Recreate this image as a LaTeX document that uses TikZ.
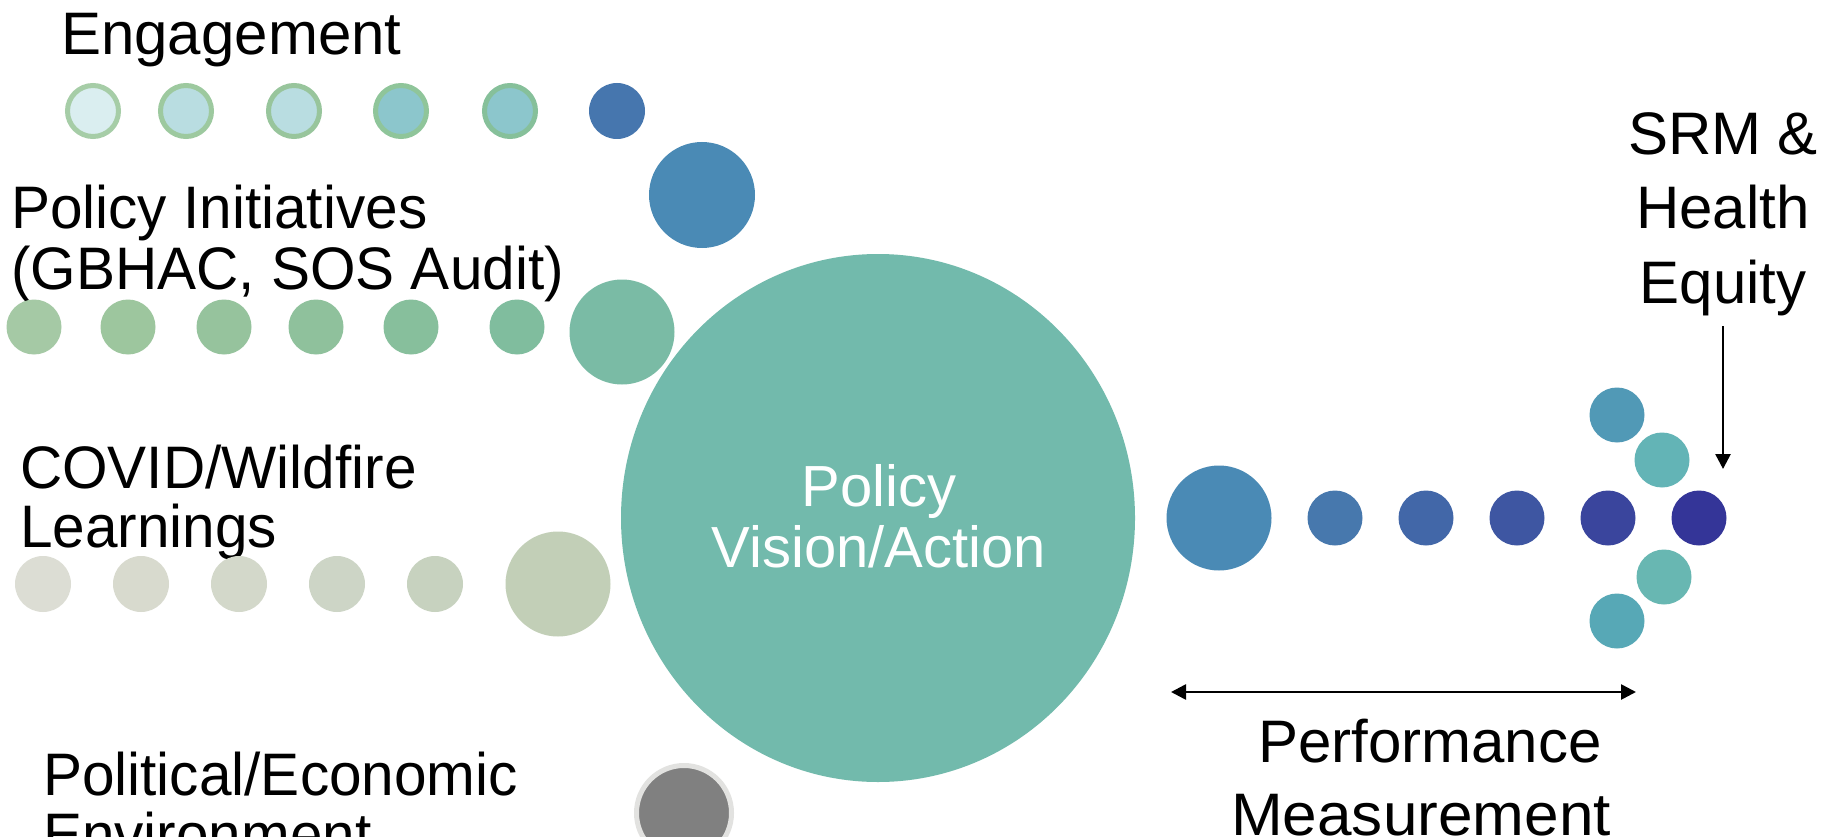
\documentclass[tikz,border=0pt]{standalone}
\usepackage{fontspec}
\setmainfont{Liberation Sans}
\newfontfamily\narrowfont{Liberation Sans}[FakeStretch=0.975]
\newfontfamily\widefont{Liberation Sans}[FakeStretch=1.035]
\usetikzlibrary{arrows.meta,shapes.geometric}
\definecolor{eA}{HTML}{DAEEF0}\definecolor{eAo}{HTML}{A6CDA7}
\definecolor{eB}{HTML}{B9DDE1}\definecolor{eBo}{HTML}{9DC99F}
\definecolor{eC}{HTML}{B9DDE1}\definecolor{eCo}{HTML}{98C59C}
\definecolor{eD}{HTML}{8CC6CC}\definecolor{eDo}{HTML}{8FC59A}
\definecolor{eE}{HTML}{8CC6CC}\definecolor{eEo}{HTML}{86C09A}
\definecolor{eF}{HTML}{4676AE}
\definecolor{bigblue}{HTML}{4A8AB5}
\definecolor{pA}{HTML}{A5C9A5}\definecolor{pB}{HTML}{9DC69E}
\definecolor{pC}{HTML}{96C39D}\definecolor{pD}{HTML}{8FC19C}
\definecolor{pE}{HTML}{87BF9C}\definecolor{pF}{HTML}{80BD9E}
\definecolor{pBig}{HTML}{7ABBA5}
\definecolor{cA}{HTML}{DCDDD4}\definecolor{cB}{HTML}{D8DACE}
\definecolor{cC}{HTML}{D3D8CA}\definecolor{cD}{HTML}{CDD5C6}
\definecolor{cE}{HTML}{C7D2BF}\definecolor{cBig}{HTML}{C2CFB7}
\definecolor{mainc}{HTML}{72BAAC}
\definecolor{grayc}{HTML}{808080}\definecolor{grayo}{HTML}{E2E2E0}
\definecolor{rA}{HTML}{4778AD}\definecolor{rB}{HTML}{4267A8}
\definecolor{rC}{HTML}{3E56A2}\definecolor{rD}{HTML}{3A459D}
\definecolor{rE}{HTML}{343598}
\definecolor{fA}{HTML}{5199B6}\definecolor{fB}{HTML}{63B4B6}
\definecolor{fC}{HTML}{68B7B2}\definecolor{fD}{HTML}{57A8B6}
\begin{document}
\begin{tikzpicture}[x=1pt,y=-1pt,
  dot/.style={circle,inner sep=0pt,draw=none,fill=#1},
  ringdot/.style={circle,inner sep=0pt,line width=5pt,minimum size=51pt},
  lbl/.style={inner sep=0pt,font=\fontsize{60}{72}\selectfont},
  nlbl/.style={inner sep=0pt,font=\narrowfont\fontsize{60}{72}\selectfont},
  clbl/.style={inner sep=0pt,font=\fontsize{58}{70}\selectfont,text=white},
  arr/.style={line width=2.6pt,-{Triangle[length=15pt,width=15pt]}},
  darr/.style={line width=2.6pt,{Triangle[length=15pt,width=15pt]}-{Triangle[length=15pt,width=15pt]}}]
\useasboundingbox (0,0) rectangle (1833,837);
\clip (0,0) rectangle (1833,837);
\fill[white] (0,0) rectangle (1833,837);

% main ellipse
\node[ellipse,inner sep=0pt,fill=mainc,minimum width=514pt,minimum height=528pt] (main) at (878,518) {};
\node[clbl,anchor=base] (mainA) at (879,506) {Policy};
\node[clbl,anchor=base] (mainB) at (879,567) {Vision/Action};

% Engagement row
\node[lbl,anchor=base west] (eng) at (61,55) {Engagement};
\node[ringdot,fill=eA,draw=eAo] (e1) at (93,111) {};
\node[ringdot,fill=eB,draw=eBo] (e2) at (186,111) {};
\node[ringdot,fill=eC,draw=eCo] (e3) at (294,111) {};
\node[ringdot,fill=eD,draw=eDo] (e4) at (401,111) {};
\node[ringdot,fill=eE,draw=eEo] (e5) at (510,111) {};
\node[dot=eF,minimum size=56pt] (e6) at (617,111) {};
\node[dot=bigblue,minimum size=106pt] (e7) at (702,195) {};

% Policy initiatives row
\node[nlbl,anchor=base west] (piA) at (11,229) {Policy Initiatives};
\node[nlbl,anchor=base west] (piB) at (11,289) {(GBHAC, SOS Audit)};
\node[dot=pA,minimum size=55pt] (p1) at (34,327) {};
\node[dot=pB,minimum size=55pt] (p2) at (128,327) {};
\node[dot=pC,minimum size=55pt] (p3) at (224,327) {};
\node[dot=pD,minimum size=55pt] (p4) at (316,327) {};
\node[dot=pE,minimum size=55pt] (p5) at (411,327) {};
\node[dot=pF,minimum size=55pt] (p6) at (517,327) {};
\node[dot=pBig,minimum size=105pt] (p7) at (622,332) {};

% COVID row
\node[nlbl,anchor=base west] (cvA) at (20,488) {COVID/Wildfire};
\node[nlbl,anchor=base west] (cvB) at (20,547) {Learnings};
\node[dot=cA,minimum size=56pt] (c1) at (43,584) {};
\node[dot=cB,minimum size=56pt] (c2) at (141,584) {};
\node[dot=cC,minimum size=56pt] (c3) at (239,584) {};
\node[dot=cD,minimum size=56pt] (c4) at (337,584) {};
\node[dot=cE,minimum size=56pt] (c5) at (435,584) {};
\node[dot=cBig,minimum size=105pt] (c6) at (558,584) {};

% Political row
\node[nlbl,anchor=base west] (polA) at (43,795) {Political/Economic};
\node[nlbl,anchor=base west] (polB) at (43,855) {Environment};
\node[circle,inner sep=0pt,fill=grayc,draw=grayo,line width=5pt,minimum size=95pt] (g1) at (684,813) {};

% right side
\node[dot=bigblue,minimum size=105pt] (r0) at (1219,518) {};
\node[dot=rA,minimum size=55pt] (r1) at (1335,518) {};
\node[dot=rB,minimum size=55pt] (r2) at (1426,518) {};
\node[dot=rC,minimum size=55pt] (r3) at (1517,518) {};
\node[dot=rD,minimum size=55pt] (r4) at (1608,518) {};
\node[dot=rE,minimum size=55pt] (r5) at (1699,518) {};
\node[dot=fA,minimum size=55pt] (f1) at (1617,415) {};
\node[dot=fB,minimum size=55pt] (f2) at (1662,460) {};
\node[dot=fC,minimum size=55pt] (f3) at (1664,577) {};
\node[dot=fD,minimum size=55pt] (f4) at (1617,621) {};

% SRM label and arrow
\node[lbl,anchor=base] (srmA) at (1723,155) {SRM \&};
\node[lbl,anchor=base] (srmB) at (1723,229) {Health};
\node[lbl,anchor=base] (srmC) at (1723,303) {Equity};
\coordinate (srmS) at (1723,326);
\coordinate (srmE) at (1723,469);
\draw[arr] (srmS) -- (srmE);

% performance measurement
\coordinate (pmL) at (1171,692);
\coordinate (pmR) at (1636,692);
\draw[darr] (pmL) -- (pmR);
\node[lbl,anchor=base] (pmA) at (1430,762) {Performance};
\node[lbl,anchor=base,font=\widefont\fontsize{60}{72}\selectfont] (pmB) at (1421,835) {Measurement};
\end{tikzpicture}
\end{document}
